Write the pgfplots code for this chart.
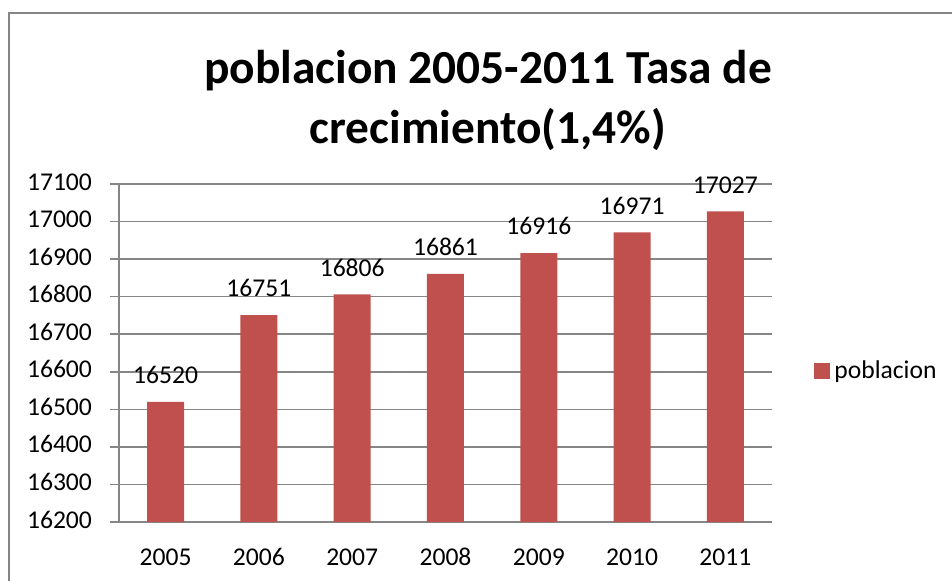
\documentclass[border=0pt]{standalone}
\usepackage{fontspec}
\setmainfont{Carlito}
\usepackage{pgfplots}
\pgfplotsset{compat=1.18}
\definecolor{barred}{RGB}{192,80,77}
\definecolor{gridgray}{RGB}{134,134,134}

\begin{document}
\begin{tikzpicture}
% 1 px of the reference = 0.5pt
\useasboundingbox (0pt,0pt) rectangle (476pt,-290pt);
\draw[gridgray, line width=1pt] (4.25pt,-291pt) -- (4.25pt,-6.5pt) -- (477pt,-6.5pt);
\node[align=center, font=\fontsize{23.7}{30}\selectfont\bfseries] at (244pt,-50pt)
  {poblacion 2005-2011 Tasa de\\crecimiento(1,4\%)};
\begin{axis}[
  at={(59.5pt,-261pt)}, anchor=south west,
  scale only axis,
  width=326.5pt, height=169pt,
  ybar, bar width=18.5pt,
  xmin=-0.5, xmax=6.5,
  ymin=16200, ymax=17100,
  xtick={0,...,6},
  xticklabels={2005,2006,2007,2008,2009,2010,2011},
  minor xtick={-0.5,0.5,...,6.5},
  ytick={16200,16300,...,17100},
  scaled y ticks=false,
  axis x line*=bottom, axis y line*=left,
  axis line style={gridgray, line width=0.75pt},
  ymajorgrids,
  major grid style={gridgray, line width=0.75pt},
  tick align=outside,
  x tick style={draw=none},
  minor x tick style={gridgray, line width=0.75pt},
  minor tick length=4pt,
  y tick style={gridgray, line width=0.75pt},
  major tick length=4.5pt,
  tick label style={font=\fontsize{12.8}{15}\selectfont},
  typeset ticklabels with strut,
  xticklabel style={yshift=-3pt},
  yticklabel style={xshift=-5.5pt,
    /pgf/number format/.cd, fixed, 1000 sep={}},
  /pgf/number format/assume math mode=true,
  nodes near coords,
  nodes near coords style={font=\fontsize{12.8}{15}\selectfont, text=black, yshift=5.5pt,
    /pgf/number format/.cd, fixed, 1000 sep={}, assume math mode=true},
  legend style={at={(1.0643,0.447)}, anchor=west, draw=none, fill=none,
    font=\fontsize{12.8}{15}\selectfont, inner sep=0pt},
  legend image code/.code={\fill[barred] (0pt,-4pt) rectangle (8pt,4pt);},
]
\addplot[fill=barred, draw=none] coordinates {(0,16520)(1,16751)(2,16806)(3,16861)(4,16916)(5,16971)(6,17027)};
\addlegendentry{poblacion}
\end{axis}
\end{tikzpicture}
\end{document}
